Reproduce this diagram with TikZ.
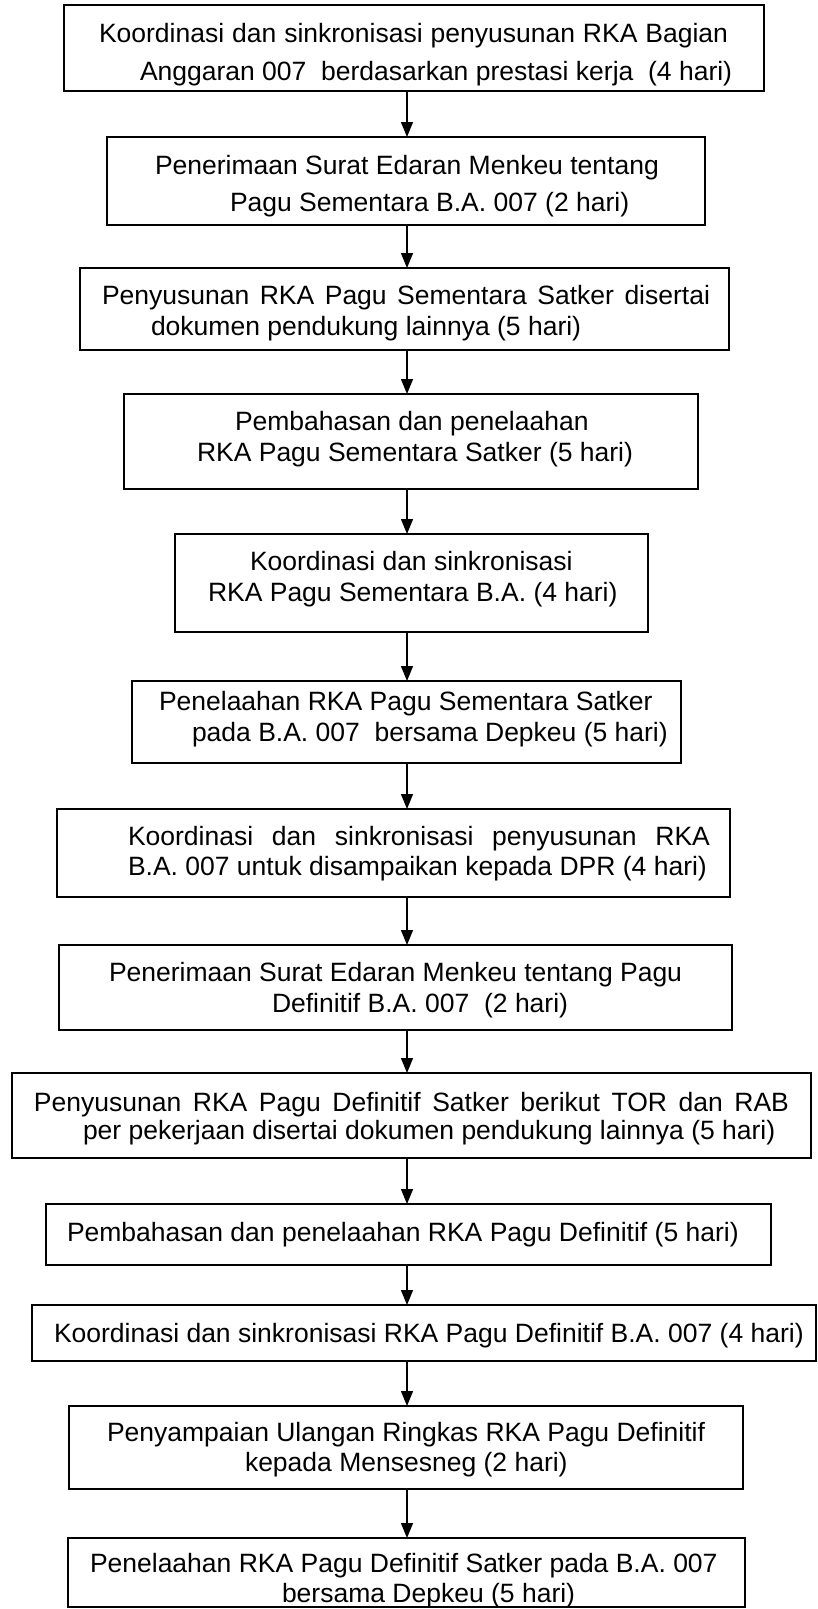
\documentclass[tikz,border=0pt]{standalone}
\usepackage{fontspec}
\setmainfont{Liberation Sans}
\usetikzlibrary{arrows.meta}
\begin{document}
\begin{tikzpicture}[x=1pt,y=-1pt,
  boxst/.style={draw=black,line width=1.3pt,inner sep=0pt,outer sep=0pt},
  txt/.style={anchor=base west,inner sep=0pt,outer sep=0pt,font=\fontsize{26.5}{30}\selectfont},
  arr/.style={line width=1.3pt,-{Triangle[length=15pt,width=12pt]}}]
\useasboundingbox (0,0) rectangle (818,1609);
\coordinate (ax) at (407,0);
% boxes
\node[boxst,minimum width=700pt,minimum height=86pt] (b1) at (414,48) {};
\node[boxst,minimum width=598pt,minimum height=88pt] (b2) at (406,181) {};
\node[boxst,minimum width=649pt,minimum height=82pt] (b3) at (404.5,309) {};
\node[boxst,minimum width=574pt,minimum height=95pt] (b4) at (411,441.5) {};
\node[boxst,minimum width=473pt,minimum height=98pt] (b5) at (411.5,583) {};
\node[boxst,minimum width=549pt,minimum height=82pt] (b6) at (406.5,722) {};
\node[boxst,minimum width=673pt,minimum height=88pt] (b7) at (393.5,853) {};
\node[boxst,minimum width=673pt,minimum height=85pt] (b8) at (395.5,987.5) {};
\node[boxst,minimum width=799pt,minimum height=85pt] (b9) at (411.5,1115.5) {};
\node[boxst,minimum width=725pt,minimum height=61pt] (b10) at (408.5,1234.5) {};
\node[boxst,minimum width=784pt,minimum height=56pt] (b11) at (424,1333) {};
\node[boxst,minimum width=674pt,minimum height=83pt] (b12) at (406,1447.5) {};
\node[boxst,minimum width=677pt,minimum height=69pt] (b13) at (406.5,1572.5) {};
% texts
\node[txt] (t1a) at (99,42) {\makebox[629pt][s]{Koordinasi dan sinkronisasi penyusunan RKA Bagian}};
\node[txt] (t1b) at (140,80) {Anggaran 007\ \ berdasarkan prestasi kerja\ \ (4 hari)};
\node[txt] (t2a) at (155,174.5) {Penerimaan Surat Edaran Menkeu tentang};
\node[txt] (t2b) at (230,211) {Pagu Sementara B.A. 007 (2 hari)};
\node[txt] (t3a) at (102,304) {\makebox[608pt][s]{Penyusunan RKA Pagu Sementara Satker disertai}};
\node[txt] (t3b) at (151,335) {dokumen pendukung lainnya (5 hari)};
\node[txt] (t4a) at (235,430.5) {Pembahasan dan penelaahan};
\node[txt] (t4b) at (197,461.5) {RKA Pagu Sementara Satker (5 hari)};
\node[txt] (t5a) at (250,570.5) {Koordinasi dan sinkronisasi};
\node[txt] (t5b) at (208,601) {RKA Pagu Sementara B.A. (4 hari)};
\node[txt] (t6a) at (159,710.5) {Penelaahan RKA Pagu Sementara Satker};
\node[txt] (t6b) at (192,741.5) {pada B.A. 007\ \ bersama Depkeu (5 hari)};
\node[txt] (t7a) at (128,845.5) {\makebox[582pt][s]{Koordinasi dan sinkronisasi penyusunan RKA}};
\node[txt] (t7b) at (128,875.5) {B.A. 007 untuk disampaikan kepada DPR (4 hari)};
\node[txt] (t8a) at (109,981.5) {Penerimaan Surat Edaran Menkeu tentang Pagu};
\node[txt] (t8b) at (272,1012.5) {Definitif B.A. 007\ \ (2 hari)};
\node[txt] (t9a) at (34,1111.5) {\makebox[755pt][s]{Penyusunan RKA Pagu Definitif Satker berikut TOR dan RAB}};
\node[txt] (t9b) at (83,1139.5) {per pekerjaan disertai dokumen pendukung lainnya (5 hari)};
\node[txt] (t10) at (67,1241) {Pembahasan dan penelaahan RKA Pagu Definitif (5 hari)};
\node[txt] (t11) at (54,1342.5) {Koordinasi dan sinkronisasi RKA Pagu Definitif B.A. 007 (4 hari)};
\node[txt] (t12a) at (107,1441.5) {Penyampaian Ulangan Ringkas RKA Pagu Definitif};
\node[txt] (t12b) at (245,1471.5) {kepada Mensesneg (2 hari)};
\node[txt] (t13a) at (90,1572) {Penelaahan RKA Pagu Definitif Satker pada B.A. 007};
\node[txt] (t13b) at (282,1602.5) {bersama Depkeu (5 hari)};
% arrows
\draw[arr] (b1.south -| ax) -- (b2.north -| ax);
\draw[arr] (b2.south -| ax) -- (b3.north -| ax);
\draw[arr] (b3.south -| ax) -- (b4.north -| ax);
\draw[arr] (b4.south -| ax) -- (b5.north -| ax);
\draw[arr] (b5.south -| ax) -- (b6.north -| ax);
\draw[arr] (b6.south -| ax) -- (b7.north -| ax);
\draw[arr] (b7.south -| ax) -- (b8.north -| ax);
\draw[arr] (b8.south -| ax) -- (b9.north -| ax);
\draw[arr] (b9.south -| ax) -- (b10.north -| ax);
\draw[arr] (b10.south -| ax) -- (b11.north -| ax);
\draw[arr] (b11.south -| ax) -- (b12.north -| ax);
\draw[arr] (b12.south -| ax) -- (b13.north -| ax);
\end{tikzpicture}
\end{document}
